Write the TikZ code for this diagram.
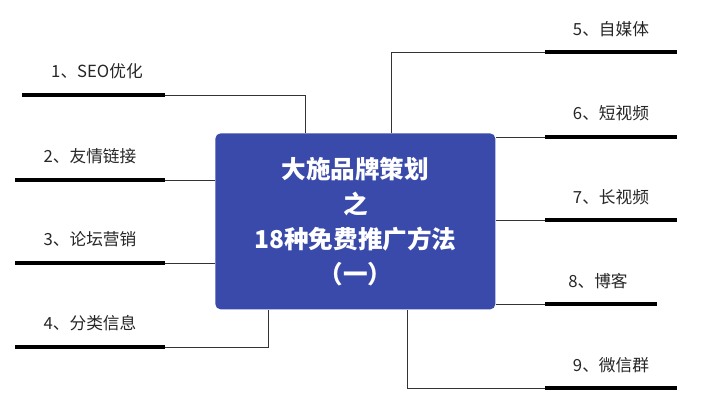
\documentclass[tikz,border=0pt]{standalone}
\usepackage{fontspec}
\setmainfont{Noto Sans CJK SC}
\usetikzlibrary{positioning}
\definecolor{boxblue}{HTML}{3A4AAB}
\begin{document}
\begin{tikzpicture}[x=0.02cm,y=-0.02cm,
  topic/.style={font=\fontsize{9.5}{11}\selectfont,text=black!85},
  bar/.style={line width=2.2pt},
  link/.style={line width=0.5pt,black!80}]
  \useasboundingbox (0,0) rectangle (701,410);
  % central box
  \node[fill=boxblue,rounded corners=3pt,minimum width=280*0.02cm,minimum height=176*0.02cm,
        text=white,font=\bfseries\fontsize{14}{20}\selectfont,align=center,anchor=north west]
        (main) at (215,133) {大施品牌策划\\之\\18种免费推广方法\\（一）};
  % left branches
  \coordinate (l1a) at (22,95);  \coordinate (l1b) at (165,95);
  \coordinate (l2a) at (15,180); \coordinate (l2b) at (165,180);
  \coordinate (l3a) at (15,263); \coordinate (l3b) at (165,263);
  \coordinate (l4a) at (15,347); \coordinate (l4b) at (165,347);
  \node[topic] (t1) at (97,71)  {1、SEO优化};
  \node[topic] (t2) at (90,156) {2、友情链接};
  \node[topic] (t3) at (90,239) {3、论坛营销};
  \node[topic] (t4) at (90,323) {4、分类信息};
  \draw[bar] (l1a) -- (l1b); \draw[bar] (l2a) -- (l2b);
  \draw[bar] (l3a) -- (l3b); \draw[bar] (l4a) -- (l4b);
  \draw[link] (l1b) -| (main.north west -| 305,0);
  \draw[link] (l2b) -- (l2b -| main.west);
  \draw[link] (l3b) -- (l3b -| main.west);
  \draw[link] (l4b) -| (main.south west -| 268,0);
  % right branches
  \coordinate (r5a) at (545,52);  \coordinate (r5b) at (677,52);
  \coordinate (r6a) at (545,137); \coordinate (r6b) at (677,137);
  \coordinate (r7a) at (545,220); \coordinate (r7b) at (677,220);
  \coordinate (r8a) at (545,304); \coordinate (r8b) at (657,304);
  \coordinate (r9a) at (545,388); \coordinate (r9b) at (677,388);
  \node[topic] (t5) at (611,29)  {5、自媒体};
  \node[topic] (t6) at (611,113) {6、短视频};
  \node[topic] (t7) at (611,197) {7、长视频};
  \node[topic] (t8) at (598,281) {8、博客};
  \node[topic] (t9) at (611,365) {9、微信群};
  \draw[bar] (r5a) -- (r5b); \draw[bar] (r6a) -- (r6b);
  \draw[bar] (r7a) -- (r7b); \draw[bar] (r8a) -- (r8b);
  \draw[bar] (r9a) -- (r9b);
  \draw[link] (r5a) -| (main.north west -| 391,0);
  \draw[link] (r6a) -- (r6a -| main.east);
  \draw[link] (r7a) -- (r7a -| main.east);
  \draw[link] (r8a) -- (r8a -| main.east);
  \draw[link] (r9a) -| (main.south west -| 407,0);
\end{tikzpicture}
\end{document}
